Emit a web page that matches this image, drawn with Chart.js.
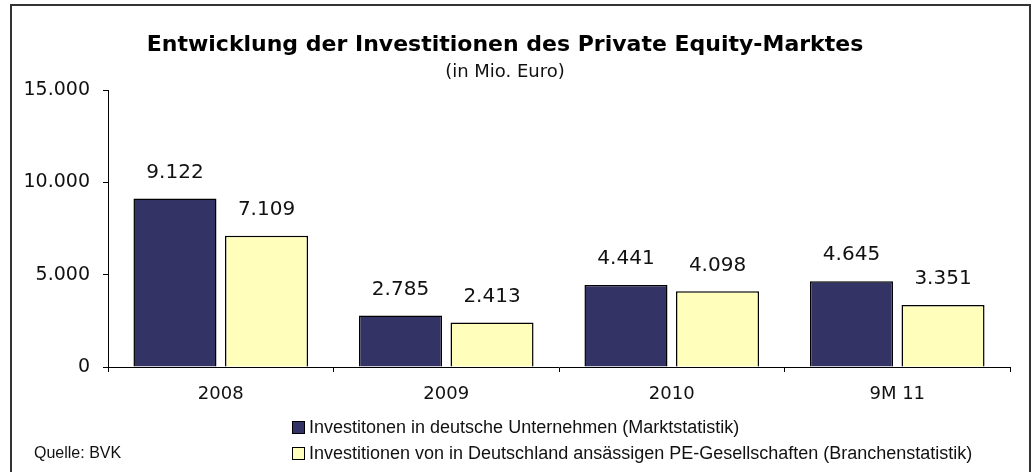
<!DOCTYPE html>
<html>
<head>
<meta charset="utf-8">
<script src="https://cdn.jsdelivr.net/npm/chart.js@4/dist/chart.umd.min.js"></script>
<style>
  body { margin: 0; background: #fff; }
  canvas { display: block; }
</style>
</head>
<body>
<canvas id="peChart" width="1034" height="472"></canvas>
<script>
'use strict'

// data
var years = ['2008', '2009', '2010', '9M 11'];
var marktstatistik = [9122, 2785, 4441, 4645];
var branchenstatistik = [7109, 2413, 4098, 3351];
var yTicks = [0, 5000, 10000, 15000];
var seriesNames = [
  'Investitonen in deutsche Unternehmen (Marktstatistik)',
  'Investitionen von in Deutschland ansässigen PE-Gesellschaften (Branchenstatistik)'
];

function fmt(v) {
  return String(v).replace(/\B(?=(\d{3})+(?!\d))/g, '.');
}

// frame, value labels, legend and source note
var extras = {
  id: 'extras',
  afterDatasetsDraw: function(chart) {
    var ctx = chart.ctx;
    ctx.save();
    ctx.fillStyle = '#111';
    ctx.font = '20px "DejaVu Sans"';
    ctx.textAlign = 'center';
    ctx.textBaseline = 'middle';
    chart.data.datasets.forEach(function(ds, i) {
      chart.getDatasetMeta(i).data.forEach(function(bar, j) {
        ctx.fillText(fmt(ds.data[j]), bar.x, bar.y - 26);
      });
    });
    ctx.restore();
  },
  afterDraw: function(chart) {
    var ctx = chart.ctx;
    ctx.save();
    // outer frame
    ctx.strokeStyle = '#333';
    ctx.lineWidth = 2;
    ctx.strokeRect(11, 5, 1019, 480);

    // legend, two rows left aligned
    ctx.font = '18px "Liberation Sans"';
    ctx.textAlign = 'left';
    ctx.textBaseline = 'middle';
    chart.data.datasets.forEach(function(ds, i) {
      var y = 428 + i * 26;
      ctx.fillStyle = ds.backgroundColor;
      ctx.fillRect(293, y - 6, 11, 11);
      ctx.strokeStyle = '#000';
      ctx.lineWidth = 1;
      ctx.strokeRect(292.5, y - 6.5, 12, 12);
      ctx.fillStyle = '#111';
      ctx.fillText(ds.label, 309, y);
    });

    ctx.font = '16px "Liberation Sans"';
    ctx.fillText('Quelle: BVK', 34, 454);
    ctx.restore();
  }
};

var ctx = document.getElementById('peChart').getContext('2d');
var chart = new Chart(ctx, {
  type: 'bar',
  data: {
    labels: years,
    datasets: [{
      label: seriesNames[0],
      data: marktstatistik,
      backgroundColor: '#333366',
      borderColor: '#000',
      borderWidth: 1.5,
      categoryPercentage: 0.812,
      barPercentage: 0.907
    }, {
      label: seriesNames[1],
      data: branchenstatistik,
      backgroundColor: '#ffffbb',
      borderColor: '#000',
      borderWidth: 1.5,
      categoryPercentage: 0.812,
      barPercentage: 0.907
    }]
  },
  options: {
    responsive: false,
    animation: false,
    layout: { padding: { left: 0, right: 24, top: 0, bottom: 0 } },
    plugins: {
      legend: { display: false },
      tooltip: { enabled: false },
      title: {
        display: true,
        text: 'Entwicklung der Investitionen des Private Equity-Marktes',
        color: '#000',
        font: { family: 'DejaVu Sans', size: 22, weight: 'bold', lineHeight: 1.1 },
        padding: { top: 33, bottom: 0 }
      },
      subtitle: {
        display: true,
        text: '(in Mio. Euro)',
        color: '#111',
        font: { family: 'DejaVu Sans', size: 18, lineHeight: 1.1 },
        padding: { top: 5, bottom: 8 }
      }
    },
    scales: {
      x: {
        grid: { drawOnChartArea: false, drawTicks: true, tickLength: 5, color: '#000', offset: true },
        border: { color: '#000', width: 1 },
        ticks: { color: '#111', font: { family: 'DejaVu Sans', size: 18 }, padding: 12 },
        afterFit: function(s) { s.height = 105; }
      },
      y: {
        min: 0,
        max: 15000,
        grid: { drawOnChartArea: false, drawTicks: true, tickLength: 5, color: '#000' },
        border: { color: '#000', width: 1 },
        afterBuildTicks: function(s) { s.ticks = yTicks.map(function(v) { return { value: v }; }); },
        ticks: {
          color: '#111',
          font: { family: 'DejaVu Sans', size: 19 },
          padding: 13,
          callback: function(v) { return fmt(v); }
        },
        afterFit: function(s) { s.width = 108; }
      }
    }
  },
  plugins: [extras]
});
</script>
</body>
</html>
